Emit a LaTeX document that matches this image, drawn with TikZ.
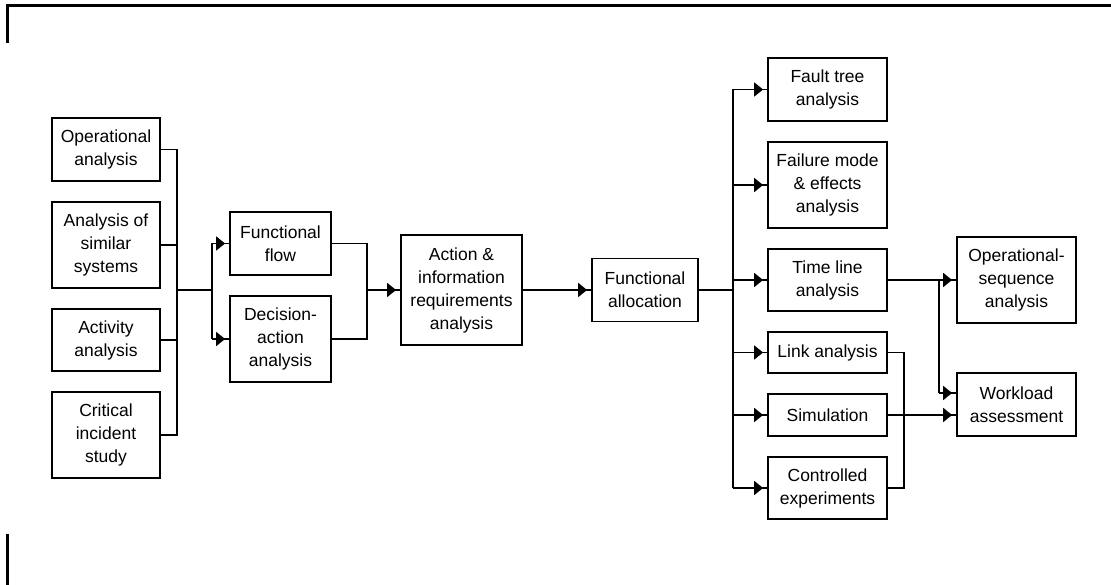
\documentclass[tikz,border=0pt]{standalone}
\usepackage{fontspec}
\setmainfont{Liberation Sans}
\usetikzlibrary{arrows.meta,decorations.markings}
\begin{document}
\begin{tikzpicture}[x=1pt,y=-1pt,
  box/.style={draw, line width=1.8pt, align=center, inner sep=0pt,
    font=\fontsize{17.5}{23}\selectfont},
  conn/.style={line width=1.8pt},
  arrin/.style={conn, postaction={decorate},
    decoration={markings, mark=at position -4pt with {\arrow{Triangle[length=9pt,width=14pt]}}}},
  frame/.style={line width=3pt}
]
\useasboundingbox (0,0) rectangle (1111,585);
% frame fragments
\coordinate (f1) at (7,43);
\coordinate (f2) at (7,6);
\coordinate (f3) at (1111,6);
\coordinate (f4) at (7,534);
\coordinate (f5) at (7,585);
\draw[frame] (f1) -- (f2) -- (f3);
\draw[frame] (f4) -- (f5);

% left column
\node[box, minimum width=108pt, minimum height=63pt] (op) at (106,149.5) {Operational\\analysis};
\node[box, minimum width=108pt, minimum height=86pt] (sim) at (106,245) {Analysis of\\similar\\systems};
\node[box, minimum width=108pt, minimum height=62pt] (act) at (106,340) {Activity\\analysis};
\node[box, minimum width=108pt, minimum height=86pt] (crit) at (106,435) {Critical\\incident\\study};

% second column
\node[box, minimum width=101pt, minimum height=63pt] (ff) at (280.5,243.5) {Functional\\flow};
\node[box, minimum width=101pt, minimum height=86pt] (da) at (280.5,339) {Decision-\\action\\analysis};

% middle
\node[box, minimum width=121pt, minimum height=110pt] (air) at (461.5,290) {Action \&\\information\\requirements\\analysis};
\node[box, minimum width=106pt, minimum height=63pt] (fa) at (645,290) {Functional\\allocation};

% right column
\node[box, minimum width=119pt, minimum height=63pt] (ft) at (827.5,89.5) {Fault tree\\analysis};
\node[box, minimum width=119pt, minimum height=86pt] (fm) at (827.5,185) {Failure mode\\\& effects\\analysis};
\node[box, minimum width=119pt, minimum height=62pt] (tl) at (827.5,280) {Time line\\analysis};
\node[box, minimum width=119pt, minimum height=41pt] (la) at (827.5,352.5) {Link analysis};
\node[box, minimum width=119pt, minimum height=42pt] (si) at (827.5,415) {Simulation};
\node[box, minimum width=119pt, minimum height=62pt] (ce) at (827.5,488) {Controlled\\experiments};

% far right
\node[box, minimum width=119pt, minimum height=86pt] (os) at (1016.5,280) {Operational-\\sequence\\analysis};
\node[box, minimum width=119pt, minimum height=63pt] (wa) at (1016.5,404.5) {Workload\\assessment};

% bus coordinates
\coordinate (b1) at (177,290);
\coordinate (b2) at (212,290);
\coordinate (b3) at (367,290);
\coordinate (b4) at (733,290);
\coordinate (b5) at (904,416);
\coordinate (b6) at (939,280);

% left bus
\draw[conn] (op.east) -- (b1 |- op.east) -- (b1 |- crit.east) -- (crit.east);
\draw[conn] (sim.east) -- (b1 |- sim.east);
\draw[conn] (act.east) -- (b1 |- act.east);
\draw[conn] (b1) -- (b2);
\draw[conn] (b2 |- ff.west) -- (b2 |- da.west);
\draw[arrin] (b2 |- ff.west) -- (ff.west);
\draw[arrin] (b2 |- da.west) -- (da.west);

% join to action box
\draw[conn] (ff.east) -- (b3 |- ff.east) -- (b3 |- da.east) -- (da.east);
\draw[arrin] (b3) -- (air.west);
\draw[arrin] (air.east) -- (fa.west);

% right bus
\draw[conn] (fa.east) -- (b4);
\draw[conn] (b4 |- ft.west) -- (b4 |- ce.west);
\draw[arrin] (b4 |- ft.west) -- (ft.west);
\draw[arrin] (b4 |- fm.west) -- (fm.west);
\draw[arrin] (b4 |- tl.west) -- (tl.west);
\draw[arrin] (b4 |- la.west) -- (la.west);
\draw[arrin] (b4 |- si.west) -- (si.west);
\draw[arrin] (b4 |- ce.west) -- (ce.west);

% outputs
\draw[arrin] (tl.east) -- (os.west |- tl.east);
\draw[conn] (b6) -- (b6 |- 0,393);
\draw[arrin] (b6 |- 0,393) -- (wa.west |- 0,393);
\draw[conn] (la.east) -- (b5 |- la.east) -- (b5 |- ce.east) -- (ce.east);
\draw[arrin] (si.east) -- (wa.west |- si.east);
\end{tikzpicture}
\end{document}
